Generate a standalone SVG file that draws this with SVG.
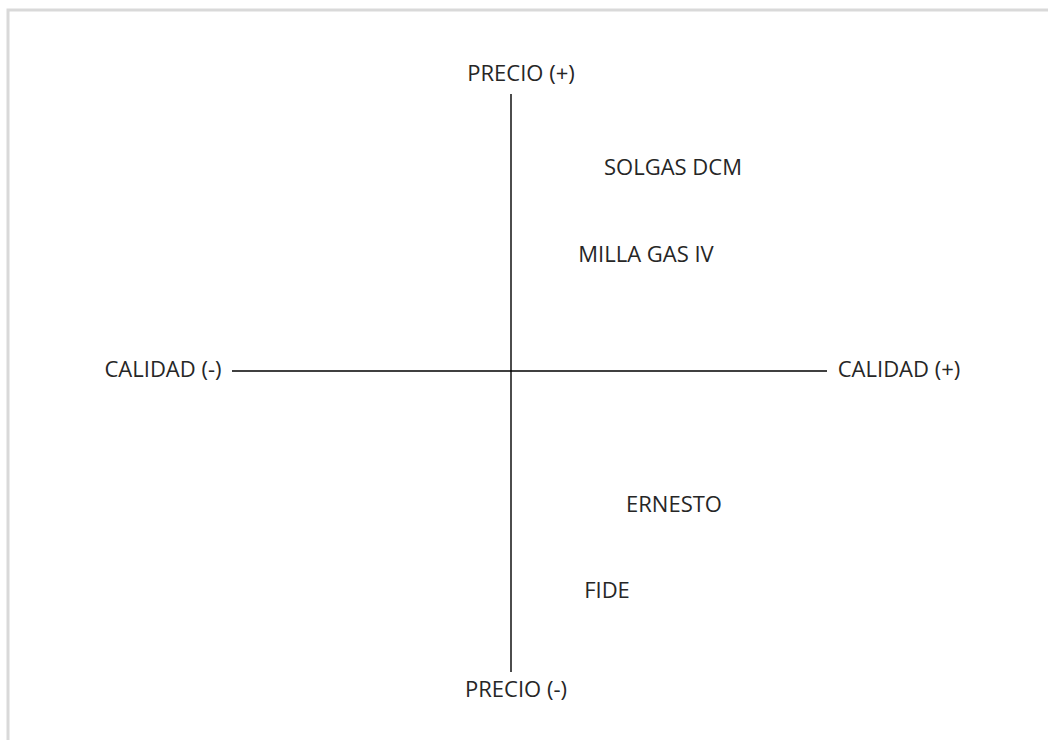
<svg xmlns="http://www.w3.org/2000/svg" width="1048" height="740" viewBox="0 0 1048 740">
<style>
text{font-family:"Open Sans","Noto Sans","Liberation Sans",sans-serif;font-size:22px;fill:#262626;text-anchor:middle}
.ax{stroke:#000;stroke-width:1.4;fill:none}
</style>
<rect x="0" y="0" width="1048" height="740" fill="#fff"/>
<path d="M8 740 V10 H1048" fill="none" stroke="#d9d9d9" stroke-width="3"/>
<g id="connectors">
<line class="ax" x1="511" y1="94" x2="511" y2="672"/>
<line class="ax" x1="232" y1="371" x2="827" y2="371"/>
</g>
<g id="precio-plus"><text x="521" y="81">PRECIO (+)</text></g>
<g id="precio-minus"><text x="516" y="697">PRECIO (-)</text></g>
<g id="calidad-minus"><text x="163" y="377">CALIDAD (-)</text></g>
<g id="calidad-plus"><text x="899" y="377">CALIDAD (+)</text></g>
<g id="solgas"><text x="673" y="175">SOLGAS DCM</text></g>
<g id="milla"><text x="646" y="262">MILLA GAS IV</text></g>
<g id="ernesto"><text x="674" y="512">ERNESTO</text></g>
<g id="fide"><text x="607" y="598">FIDE</text></g>
</svg>
